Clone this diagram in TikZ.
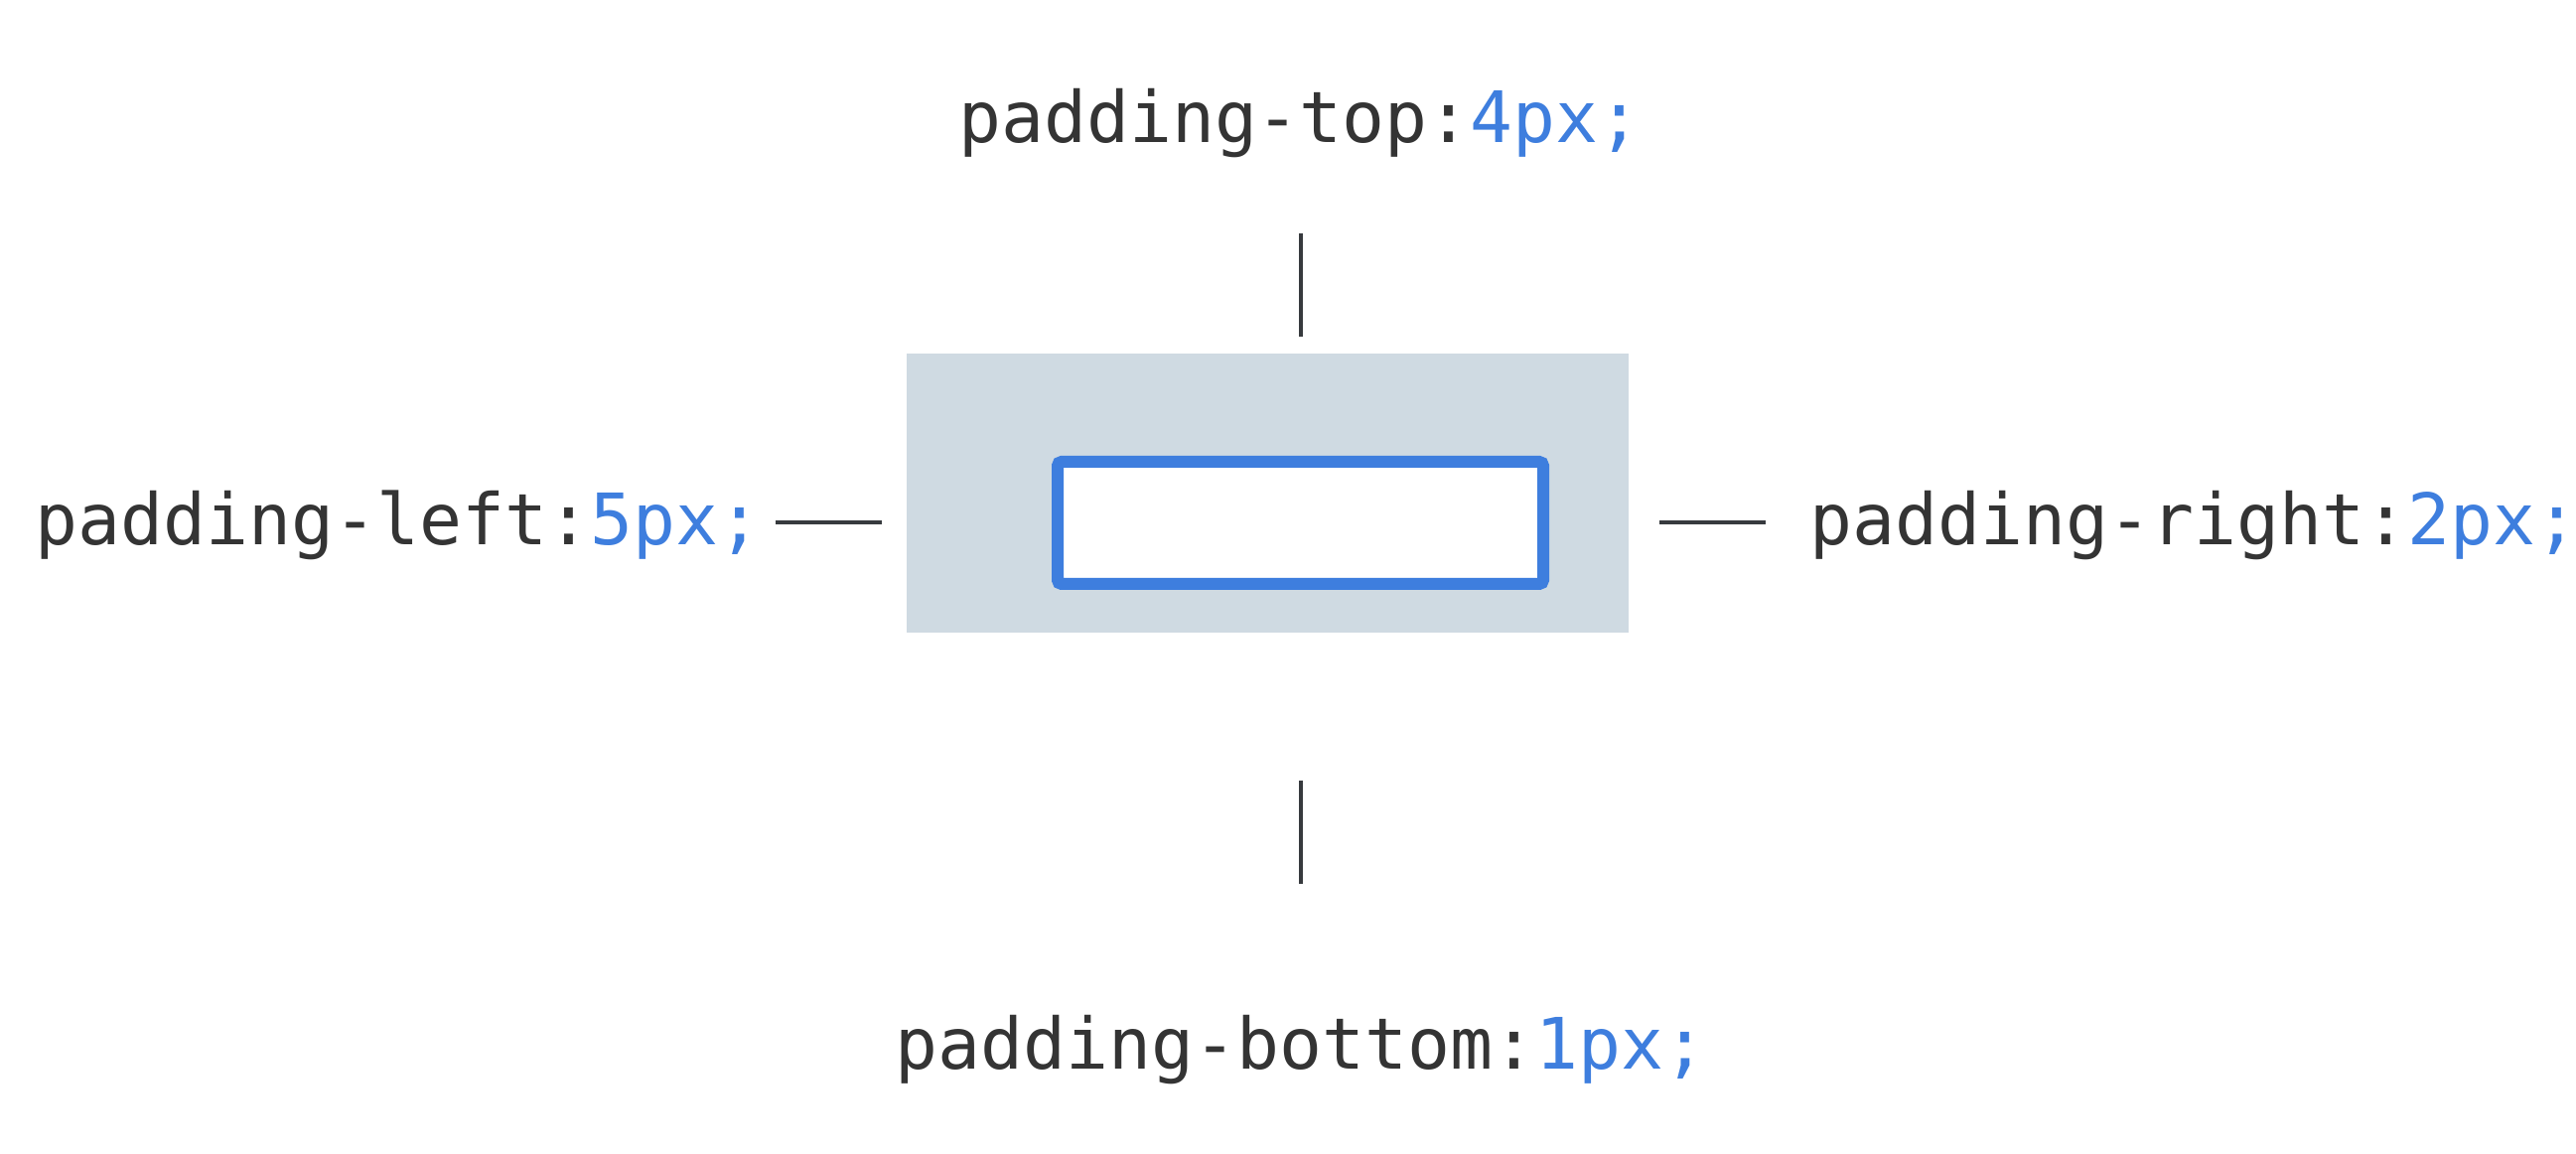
\documentclass[tikz,border=0pt]{standalone}
\usepackage{fontspec}
\setmonofont{DejaVu Sans Mono}
\definecolor{txtgrey}{RGB}{52,52,52}
\definecolor{cssblue}{RGB}{62,126,222}
\definecolor{padgrey}{RGB}{207,218,226}
\definecolor{linegrey}{RGB}{55,58,62}
\tikzset{
  lbl/.style={inner sep=0pt, font=\ttfamily\fontsize{17.85}{20}\selectfont, text=txtgrey},
  tick/.style={draw=linegrey, line width=1pt},
}
\newcommand{\cssval}[1]{\textcolor{cssblue}{#1}}
\begin{document}
\begin{tikzpicture}[x=0.25pt,y=-0.25pt]
\useasboundingbox[fill=white] (0,0) rectangle (2594,1162);
% padding area
\fill[padgrey] (913,356) rectangle (1640,637);
\node[inner sep=0pt, minimum width=727*0.25pt, minimum height=281*0.25pt] (pad) at (1276.5,496.5) {};
% content box
\draw[cssblue, line width=3pt, fill=white, rounded corners=1pt] (1065,465) rectangle (1554,588);
\node[inner sep=0pt, minimum width=489*0.25pt, minimum height=123*0.25pt] (content) at (1309.5,526.5) {};
% labels
\node[lbl, anchor=base] (top) at (1309,144) {padding-top:\cssval{4px;}};
\node[lbl, anchor=base] (bottom) at (1310,1077) {padding-bottom:\cssval{1px;}};
\node[lbl, anchor=base west] (left) at (35,549) {padding-left:\cssval{5px;}};
\node[lbl, anchor=base west] (right) at (1822,549) {padding-right:\cssval{2px;}};
% ticks
\coordinate (t1) at (1310,235); \coordinate (t2) at (1310,339);
\coordinate (b1) at (1310,786); \coordinate (b2) at (1310,890);
\coordinate (l1) at (781,526);  \coordinate (l2) at (888,526);
\coordinate (r1) at (1671,526); \coordinate (r2) at (1778,526);
\draw[tick] (t1) -- (t2);
\draw[tick] (b1) -- (b2);
\draw[tick] (l1) -- (l2);
\draw[tick] (r1) -- (r2);
\end{tikzpicture}
\end{document}
